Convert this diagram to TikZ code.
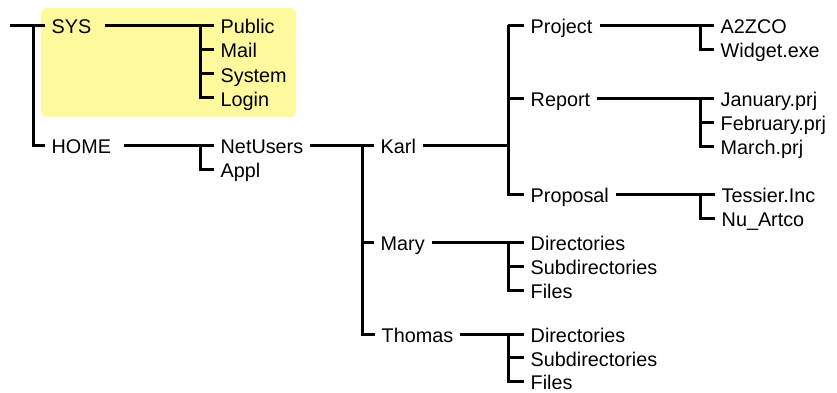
\documentclass[tikz,border=0pt]{standalone}
\usepackage{fontspec}
\setmainfont{Liberation Sans}
\usepackage{xcolor}
\usepackage{tikz}
\definecolor{sysyellow}{RGB}{255, 249, 158}

\tikzset{
  entry/.style={anchor=west, inner xsep=7pt, inner ysep=0pt, text height=17pt, text depth=0.2pt, font=\fontsize{19.8}{23}\selectfont},
  branch/.style={line width=3pt, black}
}

\begin{document}
\begin{tikzpicture}[x=1pt, y=-1pt]
\useasboundingbox (0,0) rectangle (837,392);
% highlighted system part
\fill[sysyellow, rounded corners=6pt] (41,8) rectangle (296,117);

% level 1
\coordinate (root) at (10,25);
\node[entry] (sys) at (44.5,25) {SYS};
\node[entry] (home) at (44.5,145) {HOME};

% level 2
\node[entry] (public) at (213.5,25) {Public};
\node[entry] (mail) at (213.5,49.3) {Mail};
\node[entry] (system) at (213.5,73.6) {System};
\node[entry] (login) at (213.5,97.9) {Login};
\node[entry] (netusers) at (213.5,145) {NetUsers};
\node[entry] (appl) at (213.5,169) {Appl};

% level 3
\node[entry] (karl) at (373.5,145) {Karl};
\node[entry] (mary) at (373.5,242) {Mary};
\node[entry] (thomas) at (374.5,334.5) {Thomas};

% level 4
\node[entry] (project) at (523.5,25) {Project};
\node[entry] (report) at (523.5,98) {Report};
\node[entry] (proposal) at (523.5,194) {Proposal};
\node[entry] (mdirs) at (523.5,242) {Directories};
\node[entry] (msubdirs) at (523.5,266) {Subdirectories};
\node[entry] (mfiles) at (523.5,290) {Files};
\node[entry] (tdirs) at (523.5,334.5) {Directories};
\node[entry] (tsubdirs) at (523.5,357.8) {Subdirectories};
\node[entry] (tfiles) at (523.5,381) {Files};

% level 5
\node[entry] (a2zco) at (713.5,25) {A2ZCO};
\node[entry] (widget) at (713.5,49.3) {Widget.exe};
\node[entry] (january) at (713.5,98) {January.prj};
\node[entry] (february) at (713.5,122) {February.prj};
\node[entry] (march) at (713.5,146) {March.prj};
\node[entry] (tessier) at (714.5,194) {Tessier.Inc};
\node[entry] (nuartco) at (714.5,218) {Nu\_Artco};

\coordinate (projbar) at ([xshift=-15.5pt]project.west);

% connectors
\draw[branch] (root) -- (sys.west);
\draw[branch] ([xshift=-11.5pt]sys.west) |- (home.west);

\draw[branch] ([xshift=6pt]sys.east) -- (public.west);
\draw[branch] ([xshift=-13pt]public.west) |- (login.west);
\foreach \n in {mail,system}
  \draw[branch] ([xshift=-13pt]\n.west) -- (\n.west);

\draw[branch] ([xshift=6pt]home.east) -- (netusers.west);
\draw[branch] ([xshift=-13pt]netusers.west) |- (appl.west);

\draw[branch] (netusers.east) -- (karl.west);
\draw[branch] ([xshift=-11.5pt]karl.west) |- (thomas.west);
\draw[branch] ([xshift=-11.5pt]mary.west) -- (mary.west);

\draw[branch] (karl.east) -- (karl.east -| projbar);
\draw[branch] (projbar) -- (project.west);
\draw[branch] (projbar) |- (proposal.west);
\draw[branch] (projbar |- report.west) -- (report.west);

\draw[branch] (project.east) -- (a2zco.west);
\draw[branch] ([xshift=-13.5pt]a2zco.west) |- (widget.west);

\draw[branch] (report.east) -- (january.west);
\draw[branch] ([xshift=-13.5pt]january.west) |- (march.west);
\draw[branch] ([xshift=-13.5pt]february.west) -- (february.west);

\draw[branch] (proposal.east) -- (tessier.west);
\draw[branch] ([xshift=-14.5pt]tessier.west) |- (nuartco.west);

\draw[branch] (mary.east) -- (mdirs.west);
\draw[branch] ([xshift=-15pt]mdirs.west) |- (mfiles.west);
\draw[branch] ([xshift=-15pt]msubdirs.west) -- (msubdirs.west);

\draw[branch] (thomas.east) -- (tdirs.west);
\draw[branch] ([xshift=-15pt]tdirs.west) |- (tfiles.west);
\draw[branch] ([xshift=-15pt]tsubdirs.west) -- (tsubdirs.west);
\end{tikzpicture}
\end{document}
